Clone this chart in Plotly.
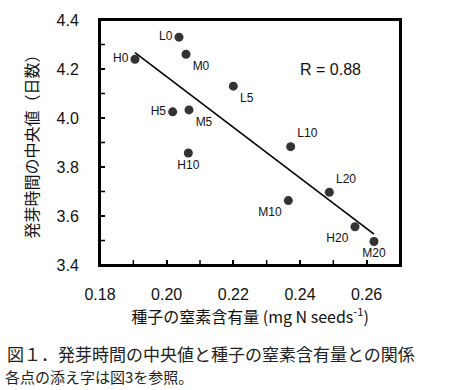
import numpy as np
import plotly.graph_objects as go

labels = ["H0", "L0", "M0", "L5", "H5", "M5", "H10", "L10", "M10", "L20", "H20", "M20"]
nitrogen = [0.1905, 0.2037, 0.2058, 0.2200, 0.2018, 0.2067, 0.2065, 0.2372, 0.2365, 0.2488, 0.2565, 0.2622]
median_days = [4.24, 4.33, 4.26, 4.13, 4.025, 4.033, 3.857, 3.883, 3.663, 3.697, 3.556, 3.496]
label_pos = ["middle left", "middle left", "bottom right", "bottom right", "middle left", "bottom right",
             "bottom center", "top right", "bottom left", "top right", "bottom left", "bottom center"]

x_ticks = [0.18, 0.20, 0.22, 0.24, 0.26]
y_ticks = [3.4, 3.6, 3.8, 4.0, 4.2, 4.4]
x_range = [0.18, 0.27]
y_range = [3.4, 4.4]
r_text = "R = 0.88"

FONT = "Liberation Sans, Arial, Noto Sans CJK JP"
JP = "Noto Sans CJK JP, Liberation Sans"

W, H = 456, 390
M = dict(l=100, r=56, t=15, b=125)
plot_w = W - M["l"] - M["r"]
plot_h = H - M["t"] - M["b"]
TICK_PX = 5

x = np.array(nitrogen)
y = np.array(median_days)
slope, intercept = np.polyfit(x, y, 1)
xl = np.array([x.min(), x.max()])
yl = slope * xl + intercept

fig = go.Figure()

# frame (drawn as a trace along the axis ranges)
fx = [x_range[0], x_range[1], x_range[1], x_range[0], x_range[0]]
fy = [y_range[0], y_range[0], y_range[1], y_range[1], y_range[0]]
fig.add_trace(go.Scatter(x=fx, y=fy, mode="lines", line=dict(color="black", width=2),
                         showlegend=False, hoverinfo="skip", cliponaxis=False))

# inside ticks (every 0.01 on x, every 0.1 on y)
xt_all = np.round(np.arange(x_range[0], x_range[1] + 1e-9, 0.01), 3)[1:-1]
yt_all = np.round(np.arange(y_range[0], y_range[1] + 1e-9, 0.1), 2)[1:-1]
dy = TICK_PX / plot_h * (y_range[1] - y_range[0])
dx = TICK_PX / plot_w * (x_range[1] - x_range[0])
tx, ty = [], []
for v in xt_all:
    tx += [v, v, None]
    ty += [y_range[0], y_range[0] + dy, None]
for v in yt_all:
    tx += [x_range[0], x_range[0] + dx, None]
    ty += [v, v, None]
fig.add_trace(go.Scatter(x=tx, y=ty, mode="lines", line=dict(color="black", width=1.5),
                         showlegend=False, hoverinfo="skip", cliponaxis=False))

fig.add_trace(go.Scatter(x=xl, y=yl, mode="lines", line=dict(color="black", width=1.6),
                         showlegend=False, hoverinfo="skip"))
fig.add_trace(go.Scatter(x=nitrogen, y=median_days, mode="markers+text", text=labels,
                         textposition=label_pos,
                         textfont=dict(family=FONT, size=12, color="#111"),
                         marker=dict(size=9, color="#333333"),
                         showlegend=False))

fig.add_annotation(x=0.2394, y=4.2, xref="x", yref="y", text=r_text, showarrow=False,
                   font=dict(family=FONT, size=16, color="#111"), xanchor="left", yanchor="middle")

fig.add_annotation(x=-0.317, y=-0.36, xref="paper", yref="paper", xanchor="left", yanchor="middle",
                   text="図１．発芽時間の中央値と種子の窒素含有量との関係", showarrow=False,
                   font=dict(family=JP, size=17, color="#222"))
fig.add_annotation(x=-0.322, y=-0.456, xref="paper", yref="paper", xanchor="left", yanchor="middle",
                   text="各点の添え字は図3を参照。", showarrow=False,
                   font=dict(family=JP, size=15, color="#222"))

axis_common = dict(ticks="inside", ticklen=TICK_PX, tickwidth=1.5, tickcolor="black", showline=True,
                   linecolor="black", linewidth=2, mirror=True, showgrid=False, zeroline=False)

fig.update_xaxes(range=x_range, tickvals=x_ticks, ticktext=[f"{v:.2f}" for v in x_ticks],
                 tickfont=dict(family=FONT, size=16, color="#111"), ticklabelstandoff=14,
                 title=dict(text="種子の窒素含有量 (mg N seeds<sup>-1</sup>)",
                            font=dict(family=JP, size=16, color="#111"), standoff=8),
                 **axis_common)
fig.update_yaxes(range=y_range, tickvals=y_ticks, ticktext=[f"{v:.1f}" for v in y_ticks],
                 tickfont=dict(family=FONT, size=16, color="#111"), ticklabelstandoff=16,
                 title=dict(text="発芽時間の中央値（日数）",
                            font=dict(family=JP, size=16, color="#111"), standoff=14),
                 **axis_common)

fig.update_layout(width=W, height=H, margin=M,
                  paper_bgcolor="white", plot_bgcolor="white", font=dict(family=FONT))

post = "document.body.style.margin='0px';"
fig.write_html("out.html", config={"displayModeBar": False}, post_script=post)
